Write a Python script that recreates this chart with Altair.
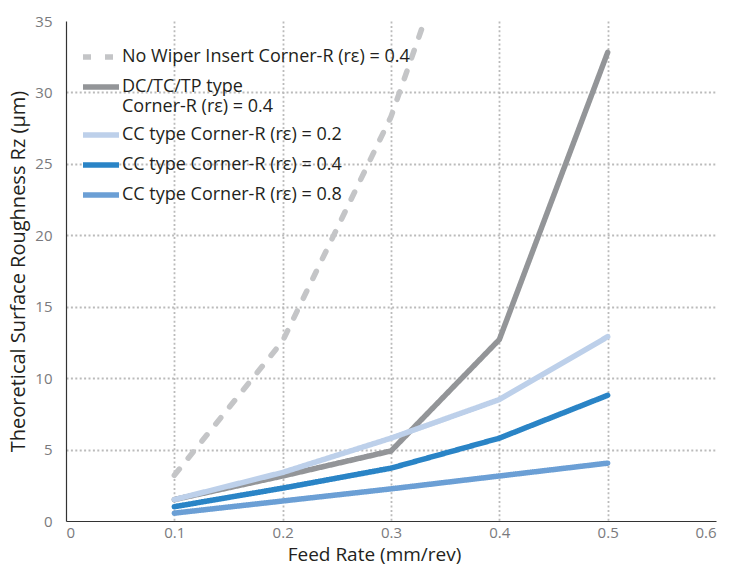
import altair as alt
import pandas as pd

feed = [0.1, 0.2, 0.3, 0.4, 0.5]
series_names = [
    "No Wiper Insert Corner-R (rε) = 0.4",
    "DC/TC/TP type|Corner-R (rε) = 0.4",
    "CC type Corner-R (rε) = 0.2",
    "CC type Corner-R (rε) = 0.4",
    "CC type Corner-R (rε) = 0.8",
]
no_wiper = [3.2, 12.6, 28.3, 50.0, None]
dc_tc_tp = [1.5, 3.15, 4.9, 12.7, 32.8]
cc_02 = [1.5, 3.4, 5.8, 8.5, 12.9]
cc_04 = [1.0, 2.3, 3.7, 5.8, 8.8]
cc_08 = [0.55, 1.4, 2.25, 3.15, 4.05]
colors = ["#c4c5c7", "#939598", "#bdd0ea", "#2a84c6", "#6b9fd5"]
dashes = [[8, 14], [1, 0], [1, 0], [1, 0], [1, 0]]
x_ticks = [0, 0.1, 0.2, 0.3, 0.4, 0.5, 0.6]
y_ticks = [0, 5, 10, 15, 20, 25, 30, 35]

rows = []
for name, vals in zip(series_names, [no_wiper, dc_tc_tp, cc_02, cc_04, cc_08]):
    for i, (f, v) in enumerate(zip(feed, vals)):
        if v is not None:
            rows.append({"series": name, "feed": f, "rz": v, "order": i})
df = pd.DataFrame(rows)

FONT = "Open Sans"

chart = alt.Chart(df).mark_line(strokeWidth=5.5, strokeCap="round", strokeJoin="miter", clip=True).encode(
    x=alt.X("feed:Q",
            scale=alt.Scale(domain=[0, 0.6], nice=False),
            axis=alt.Axis(values=x_ticks, title="Feed Rate (mm/rev)",
                          labelExpr="datum.value == 0 ? '0' : format(datum.value, '.1f')",
                          gridOpacity={"condition": {"test": "datum.value == 0 || datum.value > 0.55", "value": 0}, "value": 1},
                          titleX=308, titlePadding=5, titleFontSize=19)),
    y=alt.Y("rz:Q",
            scale=alt.Scale(domain=[0, 35], nice=False),
            axis=alt.Axis(values=y_ticks, title="Theoretical Surface Roughness Rz (μm)",
                          gridOpacity={"condition": {"test": "datum.value == 0 || datum.value > 34", "value": 0}, "value": 1},
                          labelPadding=14, titlePadding=6)),
    color=alt.Color("series:N",
                    scale=alt.Scale(domain=series_names, range=colors),
                    sort=series_names,
                    legend=alt.Legend(title=None, orient="none", legendX=22, legendY=23,
                                      direction="vertical", columns=1,
                                      symbolType="M-1.8,0H1.8", symbolSize=400, symbolStrokeWidth=5.5,
                                      labelFontSize=18, labelFont=FONT, labelColor="#231f20",
                                      labelLimit=450, labelOffset=8, rowPadding=6,
                                      labelExpr="split(datum.label, '|')")),
    strokeDash=alt.StrokeDash("series:N",
                              scale=alt.Scale(domain=series_names, range=dashes),
                              sort=series_names, legend=None),
    order="order:O",
    detail="series:N",
).properties(
    width=650, height=500,
    autosize=alt.AutoSizeParams(type="none"),
    padding={"left": 58, "top": 13, "right": 10, "bottom": 43},
).configure_view(stroke=None).configure_axis(
    domainColor="#333333", domainWidth=1.2, ticks=False,
    grid=True, gridColor="#bbbbbb", gridDash=[2, 2.4], gridWidth=1.8,
    labelFont=FONT, labelFontSize=15, labelColor="#7a7a7d",
    titleFont=FONT, titleFontSize=20, titleFontWeight="normal", titleColor="#231f20",
).configure_axisX(labelPadding=4)

chart.save("out.html", embed_options={"renderer": "svg", "actions": False})
